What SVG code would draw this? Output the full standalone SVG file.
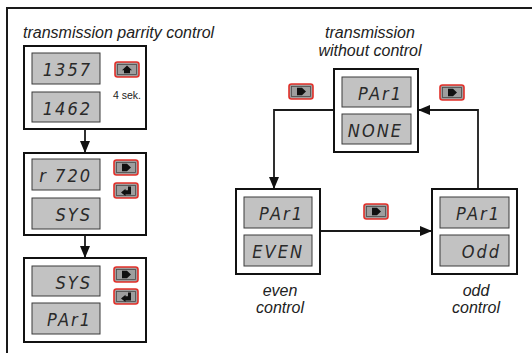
<svg xmlns="http://www.w3.org/2000/svg" xmlns:xlink="http://www.w3.org/1999/xlink" width="532" height="353" viewBox="0 0 532 353">
  <style>
    .frame { fill: none; stroke: #1a1a1a; stroke-width: 2; }
    .box { fill: #ffffff; stroke: #111111; stroke-width: 2; }
    .disp { fill: #c2c2c2; stroke: #3a3a3a; stroke-width: 1; }
    .seg { font-family: "DejaVu Sans", "Liberation Sans", sans-serif; font-stretch: condensed; font-style: italic; font-weight: normal; font-size: 18px; fill: #2a2a2a; text-anchor: end; letter-spacing: 2px; }
    .cap { font-family: "Liberation Sans", Arial, sans-serif; font-style: italic; font-size: 16px; fill: #222222; }
    .mid { text-anchor: middle; }
    .small { font-family: "Liberation Sans", Arial, sans-serif; font-size: 10.5px; fill: #222222; }
    .wire { fill: none; stroke: #1a1a1a; stroke-width: 1.8; }
    .btn { fill: #9e9e9e; stroke: #e2302a; stroke-width: 1.6; }
    .btn-in { fill: none; stroke: #4a4a4a; stroke-width: 0.8; }
    .icon { fill: #111111; }
  </style>
  <defs>
    <marker id="head" viewBox="0 0 12 10" refX="12" refY="5" markerWidth="12" markerHeight="10" markerUnits="userSpaceOnUse" orient="auto">
      <path d="M0,0 L12,5 L0,10 Z" fill="#111111"/>
    </marker>
    <!-- key buttons, 24 x 15, origin at top-left -->
    <g id="key-right">
      <rect class="btn" x="0" y="0" width="24" height="15" rx="2.5"/>
      <rect class="btn-in" x="2.5" y="2.5" width="19" height="10"/>
      <polygon class="icon" points="8,3.8 13,3.8 17,7.5 13,11.2 8,11.2"/>
    </g>
    <g id="key-up">
      <rect class="btn" x="0" y="0" width="24" height="15" rx="2.5"/>
      <rect class="btn-in" x="2.5" y="2.5" width="19" height="10"/>
      <polygon class="icon" points="12,3.6 17,8.2 15,8.2 15,11.2 9,11.2 9,8.2 7,8.2"/>
    </g>
    <g id="key-enter">
      <rect class="btn" x="0" y="0" width="24" height="15" rx="2.5"/>
      <rect class="btn-in" x="2.5" y="2.5" width="19" height="10"/>
      <polygon class="icon" points="14,3.4 17,3.4 17,11.6 11.5,11.6 11.5,13 7,9.4 11.5,5.8 11.5,7.2 14,7.2"/>
    </g>
  </defs>

  <!-- outer frame (top and left edges) -->
  <path class="frame" d="M7,353 V8 H532"/>

  <!-- headings -->
  <text class="cap" x="23" y="38">transmission parrity control</text>
  <text class="cap mid" x="370" y="38">transmission</text>
  <text class="cap mid" x="370" y="56">without control</text>

  <!-- connectors -->
  <g id="connectors">
    <line class="wire" x1="85" y1="129" x2="85" y2="153" marker-end="url(#head)"/>
    <line class="wire" x1="85" y1="235" x2="85" y2="258" marker-end="url(#head)"/>
    <polyline class="wire" points="334,110 274,110 274,189" marker-end="url(#head)"/>
    <line class="wire" x1="320" y1="231" x2="432" y2="231" marker-end="url(#head)"/>
    <polyline class="wire" points="478,189 478,110 418,110" marker-end="url(#head)"/>
    <use xlink:href="#key-right" x="289" y="84"/>
    <use xlink:href="#key-right" x="440" y="85"/>
    <use xlink:href="#key-right" x="364" y="204"/>
  </g>

  <!-- left column: entering the parity menu -->
  <g id="node-code">
    <rect class="box" x="24" y="46" width="122" height="83"/>
    <rect class="disp" x="32" y="53" width="68" height="31"/>
    <text class="seg" x="92" y="76">1357</text>
    <rect class="disp" x="32" y="92" width="68" height="30"/>
    <text class="seg" x="92" y="115">1462</text>
    <use xlink:href="#key-up" x="115" y="62"/>
    <text class="small" x="113" y="99">4 sek.</text>
  </g>

  <g id="node-sys">
    <rect class="box" x="24" y="153" width="122" height="82"/>
    <rect class="disp" x="32" y="159" width="68" height="31"/>
    <text class="seg" x="92" y="182">r 720</text>
    <rect class="disp" x="32" y="198" width="68" height="31"/>
    <text class="seg" x="92" y="221">SYS</text>
    <use xlink:href="#key-right" x="114" y="160"/>
    <use xlink:href="#key-enter" x="114" y="183"/>
  </g>

  <g id="node-pari">
    <rect class="box" x="24" y="258" width="122" height="84"/>
    <rect class="disp" x="32" y="266" width="68" height="30"/>
    <text class="seg" x="92" y="289">SYS</text>
    <rect class="disp" x="32" y="303" width="68" height="31"/>
    <text class="seg" x="92" y="326">PAr1</text>
    <use xlink:href="#key-right" x="114" y="267"/>
    <use xlink:href="#key-enter" x="114" y="289"/>
  </g>

  <!-- right part: parity options -->
  <g id="node-none">
    <rect class="box" x="334" y="69" width="84" height="83"/>
    <rect class="disp" x="342" y="77" width="69" height="30"/>
    <text class="seg" x="403" y="100">PAr1</text>
    <rect class="disp" x="342" y="114" width="69" height="30"/>
    <text class="seg" x="403" y="137">NONE</text>
  </g>

  <g id="node-even">
    <rect class="box" x="236" y="189" width="84" height="85"/>
    <rect class="disp" x="244" y="197" width="68" height="31"/>
    <text class="seg" x="304" y="220">PAr1</text>
    <rect class="disp" x="244" y="235" width="68" height="31"/>
    <text class="seg" x="304" y="258">EVEN</text>
    <text class="cap mid" x="280" y="296">even</text>
    <text class="cap mid" x="280" y="313">control</text>
  </g>

  <g id="node-odd">
    <rect class="box" x="432" y="189" width="85" height="85"/>
    <rect class="disp" x="440" y="197" width="69" height="31"/>
    <text class="seg" x="501" y="220">PAr1</text>
    <rect class="disp" x="440" y="235" width="69" height="31"/>
    <text class="seg" x="501" y="258">Odd</text>
    <text class="cap mid" x="476" y="296">odd</text>
    <text class="cap mid" x="476" y="313">control</text>
  </g>
</svg>
